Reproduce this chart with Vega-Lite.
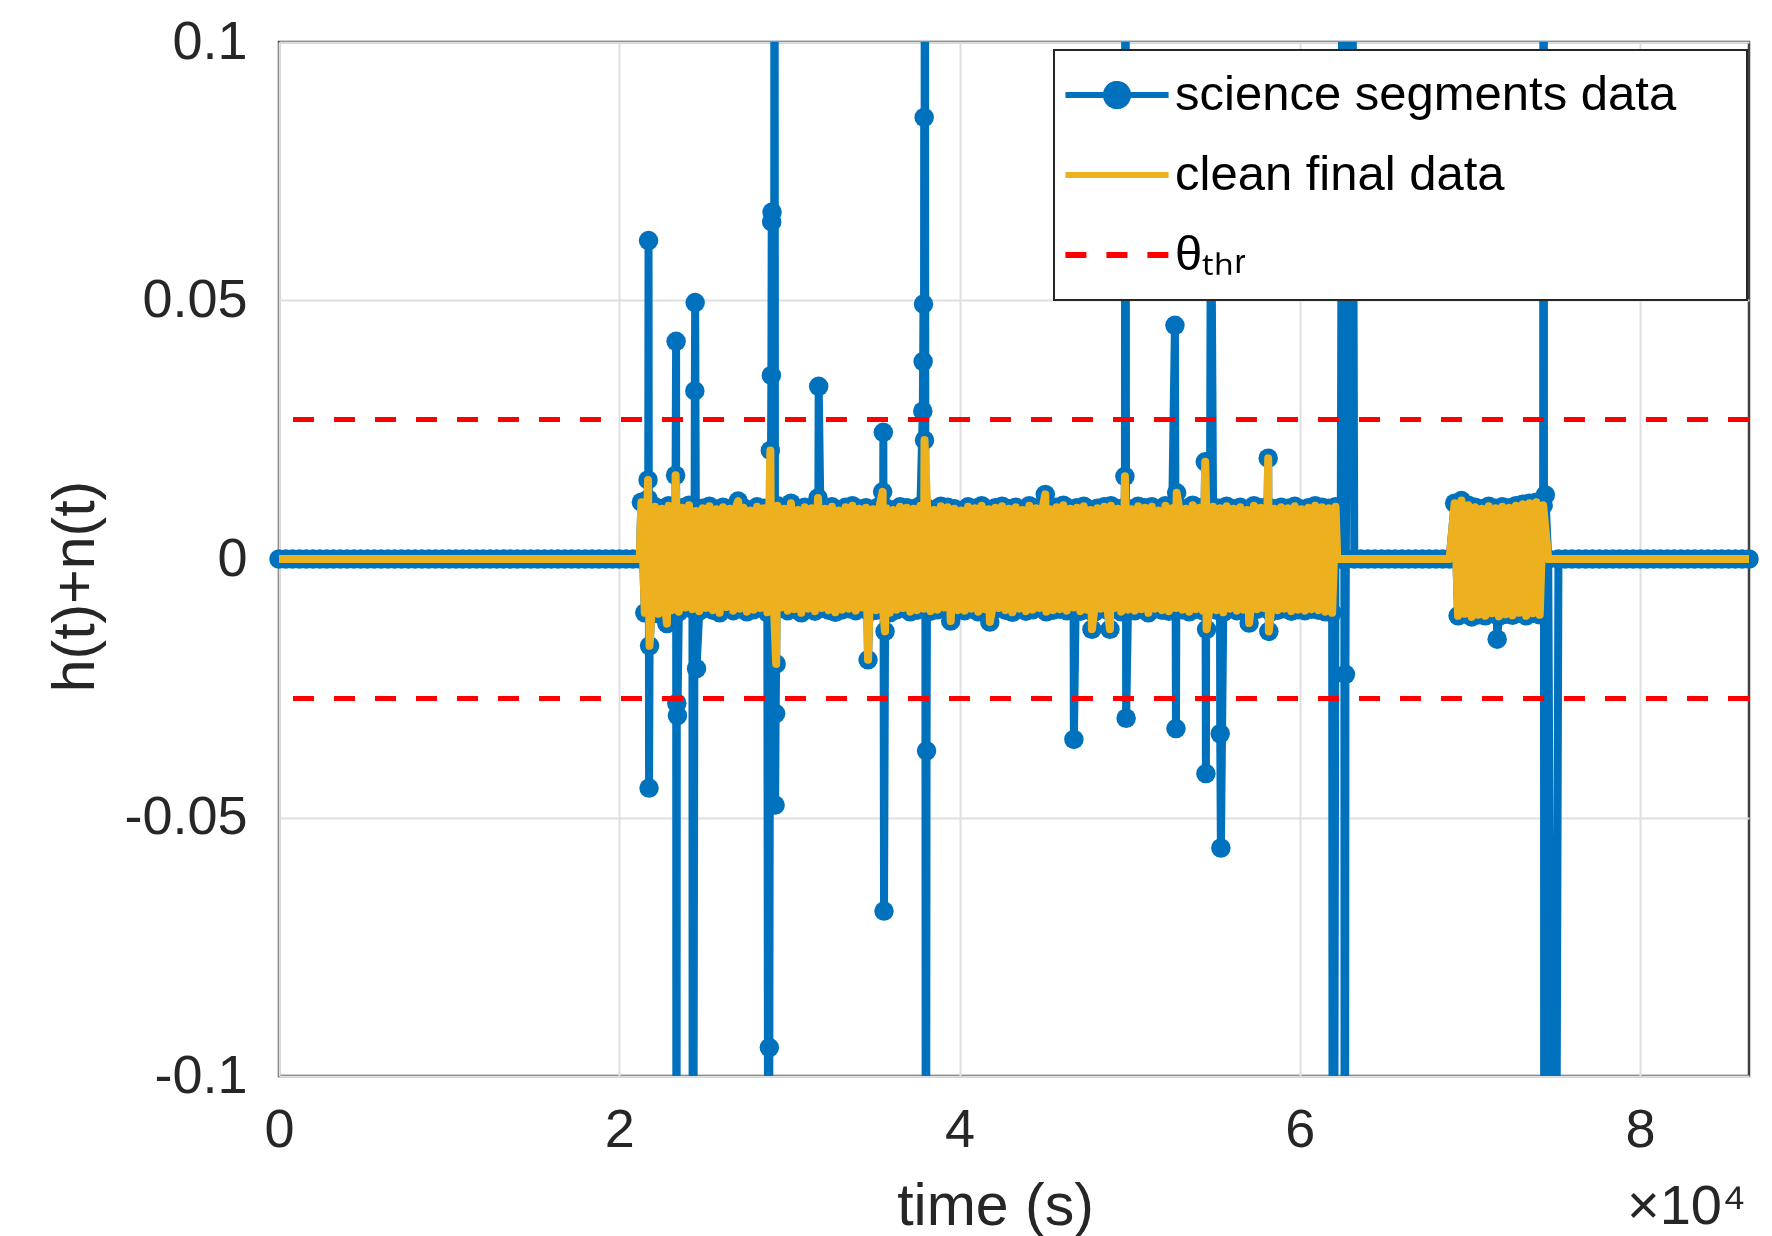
{
"$schema": "https://vega.github.io/schema/vega-lite/v6.json",
"width": 1470,
"height": 1034,
"autosize": {"type": "none"},
"padding": {"left": 279, "top": 42, "right": 23, "bottom": 160},
"background": "white",
"config": {
  "font": "Liberation Sans",
  "view": {"stroke": "#404040", "strokeWidth": 2.5}
},
"title": {"text": "×10⁴", "orient": "bottom", "anchor": "end", "frame": "group", "fontSize": 56, "fontWeight": "normal", "font": "Liberation Sans", "color": "#262626", "baseline": "alphabetic", "offset": -12, "dx": -3},
"datasets": {
"thr": [{"v": 0.027}, {"v": -0.027}],
"sig": [
{"t":0,"v":0},{"t":400,"v":0},{"t":800,"v":0},{"t":1200,"v":0},{"t":1600,"v":0},{"t":2000,"v":0},{"t":2400,"v":0},{"t":2800,"v":0},{"t":3200,"v":0},{"t":3600,"v":0},
{"t":4000,"v":0},{"t":4400,"v":0},{"t":4800,"v":0},{"t":5200,"v":0},{"t":5600,"v":0},{"t":6000,"v":0},{"t":6400,"v":0},{"t":6800,"v":0},{"t":7200,"v":0},{"t":7600,"v":0},
{"t":8000,"v":0},{"t":8400,"v":0},{"t":8800,"v":0},{"t":9200,"v":0},{"t":9600,"v":0},{"t":10000,"v":0},{"t":10400,"v":0},{"t":10800,"v":0},{"t":11200,"v":0},{"t":11600,"v":0},
{"t":12000,"v":0},{"t":12400,"v":0},{"t":12800,"v":0},{"t":13200,"v":0},{"t":13600,"v":0},{"t":14000,"v":0},{"t":14400,"v":0},{"t":14800,"v":0},{"t":15200,"v":0},{"t":15600,"v":0},
{"t":16000,"v":0},{"t":16400,"v":0},{"t":16800,"v":0},{"t":17200,"v":0},{"t":17600,"v":0},{"t":18000,"v":0},{"t":18400,"v":0},{"t":18800,"v":0},{"t":19200,"v":0},{"t":19600,"v":0},
{"t":20000,"v":0},{"t":20400,"v":0},{"t":20800,"v":0},{"t":21200,"v":0},
{"t":21300,"v":0.0110},{"t":21500,"v":-0.0104},{"t":21690,"v":0.0153},{"t":21700,"v":0.0116},{"t":21720,"v":0.0616,"s":1},{"t":21750,"v":-0.0443,"s":1},{"t":21780,"v":-0.0168},{"t":21900,"v":-0.0098},
{"t":22100,"v":0.0101},{"t":22300,"v":-0.0106},{"t":22500,"v":0.0097},{"t":22700,"v":-0.0093},{"t":22800,"v":-0.0125},{"t":22900,"v":0.0103},{"t":23100,"v":-0.0099},{"t":23300,"v":0.0095},
{"t":23310,"v":0.0162},{"t":23340,"v":0.0421,"s":1},{"t":23360,"v":-0.2,"s":1},{"t":23380,"v":-0.0279,"s":1},{"t":23420,"v":-0.0303,"s":1},{"t":23500,"v":-0.0102},{"t":23700,"v":0.0099},{"t":23900,"v":-0.0094},
{"t":24100,"v":0.0104},{"t":24300,"v":-0.0097},{"t":24320,"v":-0.2,"s":1},{"t":24440,"v":0.0325,"s":1},{"t":24460,"v":0.0496,"s":1},{"t":24500,"v":0.0093},{"t":24540,"v":-0.0212,"s":1},{"t":24700,"v":-0.0101},
{"t":24900,"v":0.0098},{"t":25100,"v":-0.0095},{"t":25300,"v":0.0102},{"t":25500,"v":-0.0099},{"t":25700,"v":0.0096},{"t":25900,"v":-0.0104},{"t":26100,"v":0.0100},{"t":26300,"v":-0.0093},
{"t":26500,"v":0.0097},{"t":26700,"v":-0.0100},{"t":26900,"v":0.0105},{"t":26990,"v":0.0112},{"t":27100,"v":-0.0096},{"t":27300,"v":0.0099},{"t":27500,"v":-0.0102},{"t":27700,"v":0.0094},
{"t":27900,"v":-0.0098},{"t":28100,"v":0.0101},{"t":28300,"v":-0.0095},{"t":28500,"v":0.0098},{"t":28700,"v":-0.0103},{"t":28780,"v":-0.2,"s":1},{"t":28820,"v":-0.0945,"s":1},{"t":28880,"v":0.0210},
{"t":28900,"v":0.0096},{"t":28940,"v":0.0355,"s":1},{"t":28960,"v":0.0652,"s":1},{"t":28980,"v":0.0671,"s":1},{"t":29100,"v":-0.0099},{"t":29120,"v":0.2,"s":1},{"t":29160,"v":-0.0476,"s":1},{"t":29190,"v":-0.0299,"s":1},
{"t":29220,"v":-0.0203},{"t":29300,"v":0.0103},{"t":29500,"v":-0.0094},{"t":29700,"v":0.0097},{"t":29900,"v":-0.0100},{"t":30090,"v":0.0108},{"t":30100,"v":0.0102},{"t":30300,"v":-0.0097},
{"t":30500,"v":0.0095},{"t":30700,"v":-0.0104},{"t":30900,"v":0.0100},{"t":31100,"v":-0.0096},{"t":31300,"v":0.0098},{"t":31500,"v":-0.0101},{"t":31680,"v":0.0118},{"t":31700,"v":0.0104},
{"t":31720,"v":0.0334,"s":1},{"t":31900,"v":-0.0095},{"t":32100,"v":0.0097},{"t":32300,"v":-0.0099},{"t":32500,"v":0.0101},{"t":32700,"v":-0.0103},{"t":32900,"v":0.0094},{"t":33100,"v":-0.0098},
{"t":33300,"v":0.0100},{"t":33500,"v":-0.0096},{"t":33700,"v":0.0103},{"t":33900,"v":-0.0100},{"t":34100,"v":0.0097},{"t":34300,"v":-0.0094},{"t":34500,"v":0.0099},{"t":34620,"v":-0.0195},
{"t":34700,"v":-0.0102},{"t":34900,"v":0.0096},{"t":35100,"v":-0.0099},{"t":35300,"v":0.0102},{"t":35480,"v":0.0130},{"t":35500,"v":-0.0097},{"t":35520,"v":0.0245,"s":1},{"t":35560,"v":-0.0681,"s":1},
{"t":35620,"v":-0.0140},{"t":35700,"v":0.0098},{"t":35900,"v":-0.0104},{"t":36100,"v":0.0095},{"t":36300,"v":-0.0098},{"t":36500,"v":0.0101},{"t":36700,"v":-0.0095},{"t":36900,"v":0.0099},
{"t":37100,"v":-0.0102},{"t":37300,"v":0.0097},{"t":37500,"v":-0.0099},{"t":37700,"v":0.0103},{"t":37840,"v":0.0286,"s":1},{"t":37860,"v":0.0382,"s":1},{"t":37880,"v":0.0493,"s":1},{"t":37900,"v":-0.0096},
{"t":37920,"v":0.0854,"s":1},{"t":37940,"v":0.0230},{"t":37960,"v":0.2,"s":1},{"t":38020,"v":-0.2,"s":1},{"t":38060,"v":-0.0371,"s":1},{"t":38100,"v":0.0098},{"t":38300,"v":-0.0101},{"t":38500,"v":0.0095},
{"t":38700,"v":-0.0098},{"t":38900,"v":0.0102},{"t":39100,"v":-0.0094},{"t":39300,"v":0.0100},{"t":39480,"v":-0.0120},{"t":39500,"v":-0.0103},{"t":39700,"v":0.0097},{"t":39900,"v":-0.0099},
{"t":40100,"v":0.0094},{"t":40300,"v":-0.0100},{"t":40500,"v":0.0101},{"t":40700,"v":-0.0096},{"t":40900,"v":0.0098},{"t":41100,"v":-0.0102},{"t":41300,"v":0.0103},{"t":41500,"v":-0.0097},
{"t":41700,"v":0.0096},{"t":41780,"v":-0.0122},{"t":41900,"v":-0.0100},{"t":42100,"v":0.0099},{"t":42300,"v":-0.0095},{"t":42500,"v":0.0102},{"t":42700,"v":-0.0099},{"t":42900,"v":0.0097},
{"t":43100,"v":-0.0103},{"t":43300,"v":0.0100},{"t":43500,"v":-0.0096},{"t":43700,"v":0.0095},{"t":43900,"v":-0.0101},{"t":44100,"v":0.0103},{"t":44300,"v":-0.0098},{"t":44500,"v":0.0098},
{"t":44700,"v":-0.0095},{"t":44900,"v":0.0101},{"t":45040,"v":0.0125},{"t":45100,"v":-0.0102},{"t":45300,"v":0.0096},{"t":45500,"v":-0.0099},{"t":45700,"v":0.0100},{"t":45900,"v":-0.0097},
{"t":46100,"v":0.0104},{"t":46300,"v":-0.0100},{"t":46500,"v":0.0097},{"t":46700,"v":-0.0094},{"t":46720,"v":-0.0349,"s":1},{"t":46900,"v":0.0099},{"t":47100,"v":-0.0101},{"t":47300,"v":0.0102},
{"t":47500,"v":-0.0098},{"t":47700,"v":0.0095},{"t":47780,"v":-0.0136},{"t":47900,"v":-0.0103},{"t":48100,"v":0.0098},{"t":48300,"v":-0.0096},{"t":48500,"v":0.0101},{"t":48700,"v":-0.0099},
{"t":48840,"v":-0.0136},{"t":48900,"v":0.0103},{"t":49100,"v":-0.0095},{"t":49300,"v":0.0097},{"t":49500,"v":-0.0102},{"t":49700,"v":0.0100},{"t":49720,"v":0.0160},{"t":49750,"v":0.2,"s":1},
{"t":49790,"v":-0.0308,"s":1},{"t":49900,"v":-0.0098},{"t":50100,"v":0.0096},{"t":50300,"v":-0.0100},{"t":50500,"v":0.0102},{"t":50700,"v":-0.0097},{"t":50900,"v":0.0099},{"t":51100,"v":-0.0104},
{"t":51300,"v":0.0101},{"t":51500,"v":-0.0096},{"t":51700,"v":0.0094},{"t":51900,"v":-0.0099},{"t":52100,"v":0.0103},{"t":52300,"v":-0.0101},{"t":52500,"v":0.0098},{"t":52660,"v":0.0452,"s":1},
{"t":52700,"v":-0.0095},{"t":52720,"v":-0.0328,"s":1},{"t":52760,"v":0.0128},{"t":52900,"v":0.0100},{"t":53100,"v":-0.0098},{"t":53300,"v":0.0097},{"t":53500,"v":-0.0102},{"t":53700,"v":0.0104},
{"t":53900,"v":-0.0097},{"t":54100,"v":0.0099},{"t":54300,"v":-0.0100},{"t":54440,"v":0.0188},{"t":54480,"v":-0.0415,"s":1},{"t":54500,"v":0.0096},{"t":54520,"v":-0.0136},{"t":54700,"v":-0.0094},
{"t":54780,"v":0.08,"s":1},{"t":54900,"v":0.0101},{"t":55100,"v":-0.0099},{"t":55300,"v":0.0098},{"t":55320,"v":-0.0338,"s":1},{"t":55360,"v":-0.0559,"s":1},{"t":55500,"v":-0.0103},{"t":55700,"v":0.0102},
{"t":55900,"v":-0.0096},{"t":56100,"v":0.0097},{"t":56300,"v":-0.0100},{"t":56500,"v":0.0100},{"t":56700,"v":-0.0098},{"t":56900,"v":0.0095},{"t":57020,"v":-0.0124},{"t":57100,"v":-0.0101},
{"t":57300,"v":0.0103},{"t":57500,"v":-0.0097},{"t":57700,"v":0.0099},{"t":57900,"v":-0.0095},{"t":58100,"v":0.0101},{"t":58140,"v":0.0195},{"t":58180,"v":-0.0140},{"t":58300,"v":-0.0102},
{"t":58500,"v":0.0097},{"t":58700,"v":-0.0099},{"t":58900,"v":0.0100},{"t":59100,"v":-0.0096},{"t":59300,"v":0.0098},{"t":59500,"v":-0.0101},{"t":59700,"v":0.0102},{"t":59900,"v":-0.0098},
{"t":60100,"v":0.0096},{"t":60300,"v":-0.0100},{"t":60500,"v":0.0099},{"t":60700,"v":-0.0097},{"t":60900,"v":0.0103},{"t":61100,"v":-0.0099},{"t":61300,"v":0.0100},{"t":61500,"v":-0.0102},
{"t":61700,"v":0.0098},{"t":61900,"v":-0.0104},{"t":61950,"v":-0.25,"s":1},{"t":62100,"v":0.0101},
{"t":62200,"v":0},{"t":62400,"v":0},{"t":62590,"v":0.25,"s":1},{"t":62640,"v":-0.25,"s":1},{"t":62680,"v":-0.0223,"s":1},{"t":62990,"v":0.25,"s":1},
{"t":63200,"v":0},{"t":63600,"v":0},{"t":64000,"v":0},{"t":64400,"v":0},{"t":64800,"v":0},{"t":65200,"v":0},{"t":65600,"v":0},{"t":66000,"v":0},{"t":66400,"v":0},{"t":66800,"v":0},
{"t":67200,"v":0},{"t":67600,"v":0},{"t":68000,"v":0},{"t":68400,"v":0},{"t":68800,"v":0},
{"t":69100,"v":0.0108},{"t":69300,"v":-0.0110},{"t":69500,"v":0.0113},{"t":69700,"v":-0.0106},{"t":69900,"v":0.0104},{"t":70100,"v":-0.0112},{"t":70300,"v":0.0100},{"t":70500,"v":-0.0108},
{"t":70700,"v":0.0097},{"t":70900,"v":-0.0110},{"t":71100,"v":0.0102},{"t":71300,"v":-0.0105},{"t":71500,"v":0.0098},{"t":71600,"v":-0.0155,"s":1},{"t":71700,"v":-0.0111},{"t":71900,"v":0.0101},
{"t":72100,"v":-0.0107},{"t":72300,"v":0.0099},{"t":72500,"v":-0.0109},{"t":72700,"v":0.0103},{"t":72900,"v":-0.0104},{"t":73100,"v":0.0106},{"t":73300,"v":-0.0110},{"t":73500,"v":0.0108},
{"t":73700,"v":-0.0105},{"t":73900,"v":0.0110},{"t":74100,"v":-0.0108},{"t":74300,"v":0.0104},
{"t":74330,"v":0.25,"s":1},{"t":74370,"v":-0.25,"s":1},{"t":74430,"v":0.0124,"s":1},{"t":74600,"v":0},{"t":74950,"v":-0.25,"s":1},
{"t":75200,"v":0},{"t":75600,"v":0},{"t":76000,"v":0},{"t":76400,"v":0},{"t":76800,"v":0},{"t":77200,"v":0},{"t":77600,"v":0},{"t":78000,"v":0},{"t":78400,"v":0},{"t":78800,"v":0},
{"t":79200,"v":0},{"t":79600,"v":0},{"t":80000,"v":0},{"t":80400,"v":0},{"t":80800,"v":0},{"t":81200,"v":0},{"t":81600,"v":0},{"t":82000,"v":0},{"t":82400,"v":0},{"t":82800,"v":0},
{"t":83200,"v":0},{"t":83600,"v":0},{"t":84000,"v":0},{"t":84400,"v":0},{"t":84800,"v":0},{"t":85200,"v":0},{"t":85600,"v":0},{"t":86000,"v":0},{"t":86400,"v":0}
]
},
"layer": [
{
  "data": {"name": "sig"},
  "mark": {"type": "line", "clip": true, "strokeWidth": 8, "strokeJoin": "round"},
  "encoding": {
    "x": {"field": "t", "type": "quantitative", "title": "time (s)",
      "scale": {"domain": [0, 86400], "nice": false, "zero": false},
      "axis": {"values": [0, 20000, 40000, 60000, 80000], "labelExpr": "datum.value / 10000",
        "grid": true, "gridColor": "#dfdfdf", "gridWidth": 2, "ticks": false, "domain": false,
        "labelFontSize": 54, "labelFont": "Liberation Sans", "labelColor": "#262626", "labelPadding": 27, "labelFlush": false,
        "titleFontSize": 59, "titleFont": "Liberation Sans", "titleFontWeight": "normal", "titleColor": "#262626",
        "titleX": 716, "titleY": 148, "titleBaseline": "alphabetic", "titleAlign": "center"}},
    "y": {"field": "v", "type": "quantitative", "title": "h(t)+n(t)",
      "scale": {"domain": [-0.1, 0.1], "nice": false, "zero": false},
      "axis": {"values": [-0.1, -0.05, 0, 0.05, 0.1],
        "labelExpr": "datum.value == 0 ? '0' : (datum.value < 0 ? '-' : '') + format(abs(datum.value), '~g')",
        "grid": true, "gridColor": "#dfdfdf", "gridWidth": 2, "ticks": false, "domain": false,
        "labelFontSize": 54, "labelFont": "Liberation Sans", "labelColor": "#262626", "labelPadding": 32,
        "titleFontSize": 59, "titleFont": "Liberation Sans", "titleFontWeight": "normal", "titleColor": "#262626",
        "titleX": -186, "titleY": 544, "titleBaseline": "alphabetic", "titleAlign": "center", "titleAngle": -90}},
    "color": {"datum": "science segments data", "type": "nominal",
      "scale": {"domain": ["science segments data", "clean final data", "θₜₕᵣ"], "range": ["#0072BD", "#EDB120", "#FF0000"]},
      "legend": {"orient": "none", "legendX": 775, "legendY": 8, "title": null,
        "fillColor": "white", "strokeColor": "#262626", "padding": 5, "cornerRadius": 0,
        "labelFontSize": 49, "labelFont": "Liberation Sans", "labelColor": "#000000", "labelLimit": 2000, "labelOffset": 25,
        "symbolType": "stroke", "symbolSize": 3600, "symbolStrokeWidth": 6, "symbolOffset": 25, "rowPadding": 0, "clipHeight": 80,
        "encode": {
          "legend": {"update": {"strokeWidth": {"value": 2}, "height": {"value": 268}}},
          "entries": {"update": {"width": {"value": 683}}},
          "symbols": {"update": {
            "shape": [{"test": "datum.value === 'science segments data'", "value": "M-1.72,0H-0.37A0.37,0.37 0 1 1 0.37,0A0.37,0.37 0 1 1 -0.37,0M0.37,0H1.72"}, {"value": "M-1.72,0H1.72"}],
            "stroke": [{"test": "datum.value === 'science segments data'", "value": "#0072BD"}, {"test": "datum.value === 'clean final data'", "value": "#EDB120"}, {"value": "#FF0000"}],
            "fill": [{"test": "datum.value === 'science segments data'", "value": "#0072BD"}, {"value": "transparent"}],
            "strokeDash": [{"test": "datum.value === 'θₜₕᵣ'", "value": [21, 20]}, {"value": [1, 0]}],
            "strokeWidth": {"value": 6},
            "opacity": {"value": 1}
          }}
        }}}
  }
},
{
  "data": {"name": "sig"},
  "transform": [{"filter": "abs(datum.v) <= 0.1"}],
  "mark": {"type": "point", "shape": "circle", "filled": true, "size": 380, "opacity": 1},
  "encoding": {
    "x": {"field": "t", "type": "quantitative", "title": "time (s)"},
    "y": {"field": "v", "type": "quantitative", "title": "h(t)+n(t)"},
    "color": {"datum": "science segments data", "type": "nominal"}
  }
},
{
  "data": {"name": "sig"},
  "transform": [{"filter": "!datum.s"}],
  "mark": {"type": "line", "strokeWidth": 8, "strokeJoin": "round"},
  "encoding": {
    "x": {"field": "t", "type": "quantitative", "title": "time (s)"},
    "y": {"field": "v", "type": "quantitative", "title": "h(t)+n(t)"},
    "color": {"datum": "clean final data", "type": "nominal"}
  }
},
{
  "data": {"name": "thr"},
  "mark": {"type": "rule", "strokeWidth": 5, "strokeDash": [21, 20]},
  "encoding": {
    "y": {"field": "v", "type": "quantitative", "title": "h(t)+n(t)"},
    "color": {"datum": "θₜₕᵣ", "type": "nominal"}
  }
}
]
}
